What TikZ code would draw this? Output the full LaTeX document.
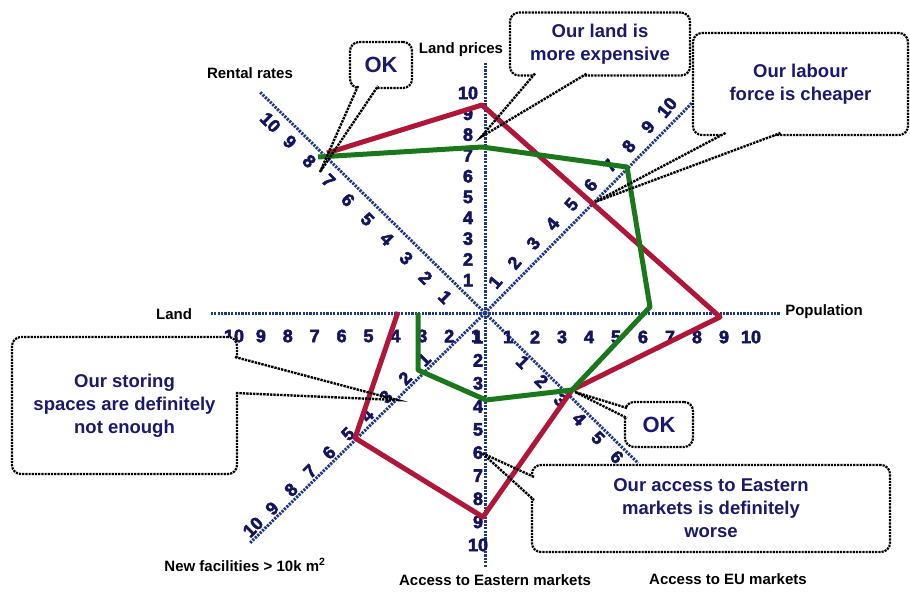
\documentclass[tikz,border=0pt]{standalone}
\usepackage{fontspec}
\setmainfont{Liberation Sans}
\newfontfamily\numfont[FakeBold=3]{Liberation Sans Bold}
\usetikzlibrary{calc}
\definecolor{axisblue}{RGB}{30,55,135}
\definecolor{numnavy}{RGB}{20,20,95}
\definecolor{txtnavy}{RGB}{25,25,110}
\definecolor{polyred}{RGB}{175,22,56}
\definecolor{polygreen}{RGB}{25,120,25}

\begin{document}
\begin{tikzpicture}[
			x=1pt, y=-1pt,
			axis/.style={draw=axisblue, line width=3pt, dash pattern=on 2.2pt off 1.2pt},
			tick/.style={font=\fontsize{18}{18}\selectfont\numfont, text=numnavy, inner sep=0pt},
			axislabel/.style={font=\fontsize{15}{15}\selectfont\bfseries, inner sep=0pt},
			callbox/.style={draw, densely dotted, line width=2.2pt, rounded corners=9pt, fill=white, align=center, text=txtnavy, font=\fontsize{18.5}{23}\selectfont\bfseries, inner sep=0pt, outer sep=0pt},
			okbox/.style={callbox, font=\fontsize{22}{22}\selectfont\bfseries},
			pointer/.style={draw, densely dotted, line width=2.4pt},
			redcurve/.style={draw=polyred, line width=5pt, line join=round},
			greencurve/.style={draw=polygreen, line width=5pt, line join=round}
			]
			\useasboundingbox (0,0) rectangle (910,592);
			
			% Axes
			\coordinate (O) at (485,313);
			\coordinate (lpEnd) at (485,63);
			\coordinate (aeEnd) at (485,567);
			\coordinate (landEnd) at (210,313);
			\coordinate (popEnd) at (780,313);
			\coordinate (rrEnd) at (260,92);
			\coordinate (euEnd) at (638,463);
			\coordinate (lfEnd) at (692,103);
			\coordinate (nfEnd) at (250,543);
			\draw[axis] (O) -- (lpEnd);
			\draw[axis] (O) -- (aeEnd);
			\draw[axis] (O) -- (landEnd);
			\draw[axis] (O) -- (popEnd);
			\draw[axis] (O) -- (rrEnd);
			\draw[axis] (O) -- (euEnd);
			\draw[axis] (O) -- (lfEnd);
			\draw[axis] (O) -- (nfEnd);
			
			% Scale numbers
			\foreach \i in {1,...,10} {
				\node[tick] (lp\i) at (468, 301-20.8*\i) {\i};
				\node[tick] (ae\i) at (478, 314+23.1*\i) {\i};
				\node[tick] (land\i) at (503-26.9*\i, 336) {\i};
				\node[tick] (pop\i) at (481+27*\i, 337) {\i};
				\node[tick, rotate=-45] (rr\i) at (464.4-19.4*\i, 316.4-19.4*\i) {\i};
				\node[tick, rotate=50] (lf\i) at (476+19.1*\i, 301.5-19.4*\i) {\i};
				\node[tick, rotate=45] (nf\i) at (443-19*\i, 341+18.6*\i) {\i};
			}
			\foreach \i in {1,...,6}
				\node[tick, rotate=-45] (eu\i) at (504+18.8*\i, 343+19*\i) {\i};
			
			% Callout boxes
			\node[okbox, minimum width=62pt, minimum height=46pt] (okTop) at (381,65) {OK};
			\node[callbox, minimum width=180pt, minimum height=63pt] (landBox) at (600,44) {Our land is\\more expensive};
			\node[callbox, minimum width=215pt, minimum height=102pt] (labourBox) at (800.5,84) {Our labour\\force is cheaper};
			\node[callbox, minimum width=225pt, minimum height=137pt] (storeBox) at (124.5,405.5) {Our storing\\spaces are definitely\\not enough};
			\node[okbox, minimum width=68pt, minimum height=45pt] (okRight) at (659,424.5) {OK};
			\node[callbox, minimum width=358pt, minimum height=87pt] (eastBox) at (711,508.5) {Our access to Eastern\\markets is definitely\\worse};
			
			% Pointer bases and tips
			\coordinate (okTopA) at ([xshift=-23pt,yshift=2pt]okTop.south);
			\coordinate (okTopB) at ([xshift=-3pt,yshift=2pt]okTop.south);
			\coordinate (okTopTip) at (320,172);
			\coordinate (landA) at ([xshift=-65pt,yshift=2pt]landBox.south);
			\coordinate (landB) at ([xshift=-13pt,yshift=2pt]landBox.south);
			\coordinate (landTip) at (481,137);
			\coordinate (labourA) at ([xshift=-75pt,yshift=2pt]labourBox.south);
			\coordinate (labourB) at ([xshift=-20pt,yshift=2pt]labourBox.south);
			\coordinate (labourTip) at (595,202);
			\coordinate (storeA) at ([xshift=-2pt,yshift=48.5pt]storeBox.east);
			\coordinate (storeB) at ([xshift=-2pt,yshift=12.5pt]storeBox.east);
			\coordinate (storeTip) at (397,400);
			\coordinate (okRightA) at ([xshift=2pt,yshift=16.5pt]okRight.west);
			\coordinate (okRightB) at ([xshift=2pt,yshift=6.5pt]okRight.west);
			\coordinate (okRightTip) at (575,392);
			\coordinate (eastA) at ([xshift=2pt,yshift=31.5pt]eastBox.west);
			\coordinate (eastB) at ([xshift=2pt,yshift=8.5pt]eastBox.west);
			\coordinate (eastTip) at (482,453);
			
			% Open the box borders under the pointers
			\foreach \c in {okTop,land,labour,store,okRight,east}
				\fill[white] (\c A) -- ($(\c A)!0.15!(\c Tip)$) -- ($(\c B)!0.15!(\c Tip)$) -- (\c B) -- cycle;
			
			% Profiles
			\draw[redcurve] (327,153) -- (482,105) -- (720,317) -- (572,390) -- (483,517) -- (355,438) -- (398,312);
			\draw[greencurve] (318,157) -- (482,147) -- (627,167) -- (650,307) -- (572,390) -- (486,400) -- (418,370) -- (418,313);
			
			% Pointers
			\foreach \c in {okTop,land,labour,store,okRight,east}
				\draw[pointer] (\c A) -- (\c Tip) -- (\c B);
			
			% Axis labels
			\node[axislabel] (rentalLbl) at (250,73) {Rental rates};
			\node[axislabel] (landPriceLbl) at (461,50) {Land prices};
			\node[axislabel] (landLbl) at (174,314) {Land};
			\node[axislabel] (popLbl) at (824,312) {Population};
			\node[axislabel] (newFacLbl) at (245,565) {New facilities > 10k m\textsuperscript{2}};
			\node[axislabel] (eastLbl) at (495,580) {Access to Eastern markets};
			\node[axislabel] (euLbl) at (728,579) {Access to EU markets};
			
		\end{tikzpicture}
\end{document}
